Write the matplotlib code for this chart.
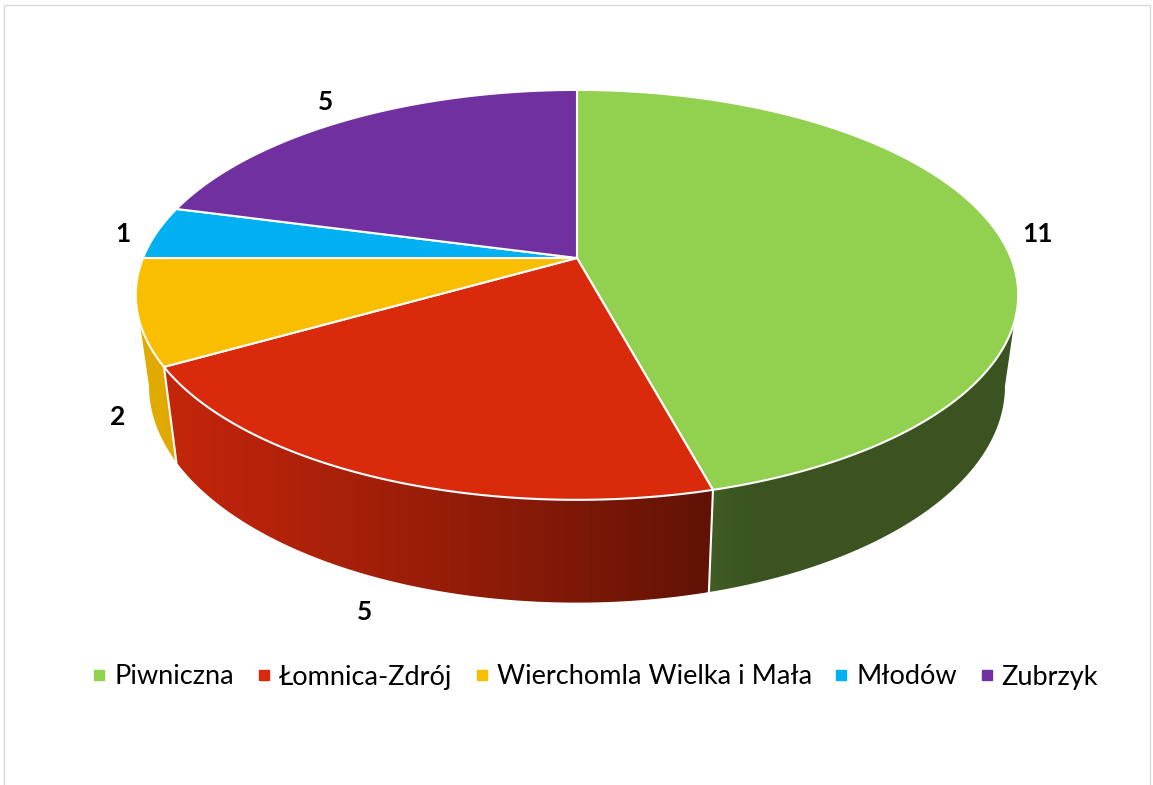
# 3D-style pie chart (Excel look) drawn with matplotlib patches

import numpy as np
from matplotlib import pyplot as plt
from matplotlib.patches import Polygon, Rectangle
from matplotlib.lines import Line2D
from matplotlib.colors import to_rgb

# Data

labels = ['Piwniczna', 'Łomnica-Zdrój', 'Wierchomla Wielka i Mała', 'Młodów', 'Zubrzyk']
values = [11, 5, 2, 1, 5]
colors = ['#92D050', '#DA2A0C', '#FABE00', '#00B0F0', '#7030A0']

plt.rcParams['font.family'] = ['Lato', 'DejaVu Sans']

# Figure in pixel coordinates

fig = plt.figure(figsize=(11.53, 7.85), dpi=100)
ax = fig.add_axes([0, 0, 1, 1])
ax.axis('off')

# Chart area border
ax.add_patch(Rectangle((4, 5), 1146, 800, fill=False, edgecolor='#D9D9D9', linewidth=1))

# Perspective projection of the pie (angle clockwise from top)
cx, cy = 577, 258
A, B, k = 434, 198.3, 0.18
depth_y, bot_sx, bot_sy = 89, 0.97, 1.057


def project(theta, r=1.0, bottom=False):
    u = r * np.sin(theta)
    v = -r * np.cos(theta)
    d = 1 - k * v
    if bottom:
        return cx + bot_sx * A * u / d, cy + depth_y + bot_sy * B * v / d
    return cx + A * u / d, cy + B * v / d


def shade(color, theta):
    f = 0.40 + 0.50 * max(0.0, -np.sin(theta + np.radians(20)))
    return tuple(c * f for c in to_rgb(color))


total = sum(values)
edges = np.radians(np.concatenate([[0], np.cumsum(values)]) / total * 360)

# visible part of the outer wall lies between the two silhouettes
sil_r = np.arccos(-k)
sil_l = 2 * np.pi - sil_r

# Side walls with horizontal gradient
for i, col in enumerate(colors):
    lo, hi = max(edges[i], sil_r), min(edges[i + 1], sil_l)
    if hi <= lo:
        continue
    ts = np.linspace(lo, hi, 300)
    top = [project(t) for t in ts]
    bot = [project(t, bottom=True) for t in ts]
    wall = Polygon(top + bot[::-1], closed=True, facecolor='none', edgecolor='none')
    ax.add_patch(wall)
    pts = np.array(top + bot)
    xmin, xmax = pts[:, 0].min(), pts[:, 0].max()
    ymin, ymax = pts[:, 1].min(), pts[:, 1].max()
    xmid = (np.array(top)[:, 0] + np.array(bot)[:, 0]) / 2
    srt = np.argsort(xmid)
    xgrid = np.linspace(xmin, xmax, 400)
    tgrid = np.interp(xgrid, xmid[srt], ts[srt])
    img = np.array([[shade(col, t) for t in tgrid]])
    im = ax.imshow(img, extent=(xmin, xmax, ymax, ymin), aspect='auto',
                   interpolation='bilinear', zorder=1)
    im.set_clip_path(wall)

# White vertical separators on visible wall boundaries
for e in edges[1:-1]:
    if sil_r + 0.03 < e < sil_l - 0.03:
        x0, y0 = project(e)
        x1, y1 = project(e, bottom=True)
        ax.plot([x0, x1], [y0, y1], color='white', linewidth=1.5, zorder=2)

# Top faces
for i, col in enumerate(colors):
    ts = np.linspace(edges[i], edges[i + 1], 200)
    pts = [(cx, cy)] + [project(t) for t in ts]
    ax.add_patch(Polygon(pts, closed=True, facecolor=col, edgecolor='white',
                         linewidth=1.5, joinstyle='round', zorder=3))

# Data labels
for i, val in enumerate(values):
    tm = (edges[i] + edges[i + 1]) / 2
    u, v = np.sin(tm), -np.cos(tm)
    x, y = project(tm, bottom=v > 0.1)
    x, y = x + u * (28 + 6 * len(str(val))) - 8 * max(v, 0) ** 4, y + 5 + 30 * v
    ax.text(x, y, str(val), ha='center', va='center', fontsize=19, fontweight='bold', zorder=4)

# Legend
handles = [Line2D([0], [0], marker='s', linestyle='none', markersize=7.5,
                  markerfacecolor=c, markeredgecolor=c) for c in colors]
ax.legend(handles, labels, loc='center', bbox_to_anchor=(592 / 1153, 1 - 677 / 785),
          ncol=5, frameon=False, fontsize=19.5, handletextpad=0.05, columnspacing=0.6,
          handlelength=1.0)

ax.set_xlim(0, 1153)
ax.set_ylim(785, 0)

plt.savefig('out.png', dpi=100)
